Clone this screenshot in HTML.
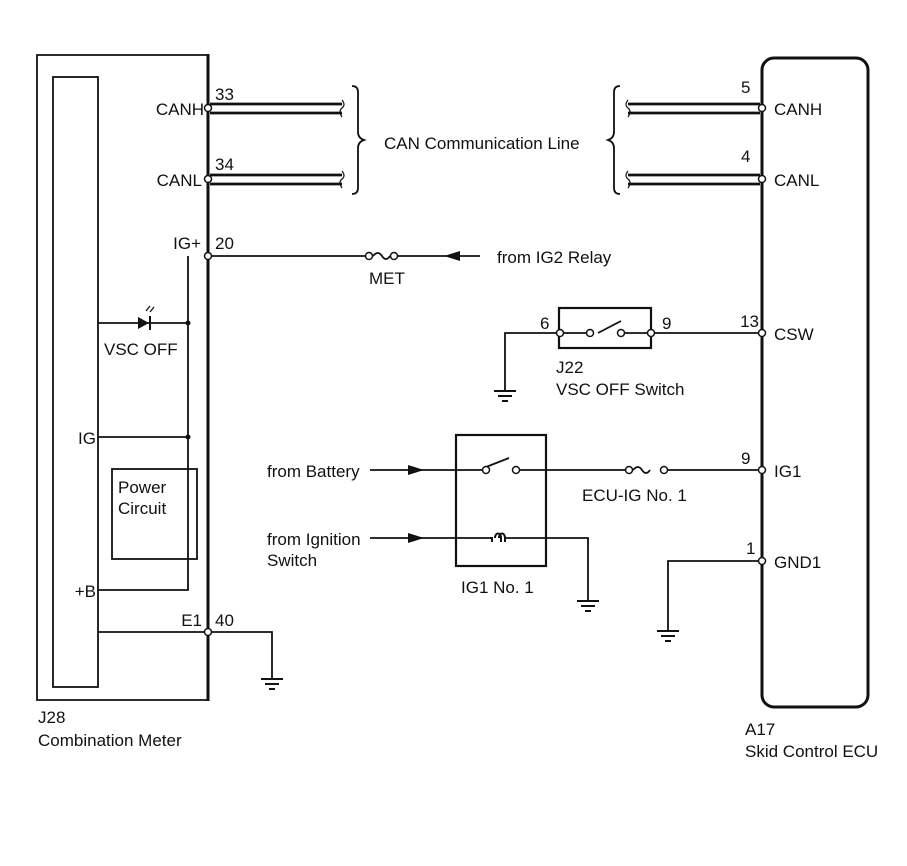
<!DOCTYPE html>
<html><head><style>
html,body{margin:0;padding:0;background:#fff;}
svg{display:block}
text{font-family:"Liberation Sans",Arial,sans-serif;font-size:17px;fill:#111}
.e{text-anchor:end}
</style></head><body>
<svg width="907" height="866" viewBox="0 0 907 866" xmlns="http://www.w3.org/2000/svg">
<defs>
<g id="gnd" stroke="#111" stroke-width="2"><line x1="-11" y1="0" x2="11" y2="0"/><line x1="-7" y1="5" x2="7" y2="5"/><line x1="-3" y1="10" x2="3" y2="10"/></g>
</defs>
<g fill="none" stroke="#111" stroke-width="1.8">
<path d="M208 55 H37 V700 H208"/>
<line x1="208" y1="54" x2="208" y2="701" stroke-width="3"/>
<rect x="53" y="77" width="45" height="610"/>
<rect x="762" y="58" width="106" height="649" rx="12" stroke-width="3"/>
<g stroke-width="2.8">
<line x1="210" y1="104" x2="342" y2="104"/><line x1="210" y1="113" x2="342" y2="113"/>
<line x1="210" y1="175" x2="342" y2="175"/><line x1="210" y1="184" x2="342" y2="184"/>
<line x1="628" y1="104" x2="760" y2="104"/><line x1="628" y1="113" x2="760" y2="113"/>
<line x1="628" y1="175" x2="760" y2="175"/><line x1="628" y1="184" x2="760" y2="184"/>
</g>
<path d="M342 100 q4 5 0 8 q-4 3 0 9 M342 171 q4 5 0 8 q-4 3 0 9" stroke-width="1.2"/>
<path d="M628 100 q-4 5 0 8 q4 3 0 9 M628 171 q-4 5 0 8 q4 3 0 9" stroke-width="1.2"/>
<path d="M352 86 q6 0 6 6 V132 q0 6 6 8 q-6 2 -6 8 V188 q0 6 -6 6"/>
<path d="M620 86 q-6 0 -6 6 V132 q0 6 -6 8 q6 2 6 8 V188 q0 6 6 6"/>
<line x1="208" y1="256" x2="369" y2="256"/>
<path d="M373 256 q5 -6 9 0 q4 6 8 0"/>
<line x1="394" y1="256" x2="480" y2="256"/>
<path d="M188 256 V590 H98"/>
<line x1="98" y1="323" x2="188" y2="323"/>
<line x1="98" y1="437" x2="188" y2="437"/>
<rect x="112" y="469" width="85" height="90"/>
<path d="M98 632 H272 V678"/>
<rect x="559" y="308" width="92" height="40" stroke-width="2.2"/>
<path d="M505 390 V333 H590 M598 333 L621 321 M621 333 H760"/>
<rect x="456" y="435" width="90" height="131" stroke-width="2.2"/>
<line x1="370" y1="470" x2="485" y2="470"/>
<line x1="486" y1="467" x2="509" y2="458"/>
<line x1="519" y1="470" x2="626" y2="470"/>
<path d="M633 470 q5 -6 9 0 q4 6 8 0"/>
<line x1="668" y1="470" x2="760" y2="470"/>
<line x1="370" y1="538" x2="490" y2="538"/>
<path d="M490 538 h2 v4 M495 538 c0 -6 6 -6 6 0 v4 M499 538 c0 -6 6 -6 6 0 v4" stroke-width="2"/>
<path d="M506 538 H588 V600"/>
<path d="M760 561 H668 V630"/>
</g>
<g fill="#111">
<polygon points="444,256 460,251 460,261"/>
<polygon points="424,470 408,465 408,475"/>
<polygon points="424,538 408,533 408,543"/>
<polygon points="138,317 138,329 149,323"/>
<rect x="149" y="316" width="2" height="14"/>
<circle cx="188" cy="323" r="2.5"/><circle cx="188" cy="437" r="2.5"/>
</g>
<path d="M146 311 l4 -5 M150 312 l4 -5" stroke="#111" stroke-width="1.3"/>
<use href="#gnd" x="272" y="679"/><use href="#gnd" x="505" y="391"/><use href="#gnd" x="588" y="601"/><use href="#gnd" x="668" y="631"/>
<g fill="#fff" stroke="#111" stroke-width="1.5">
<circle cx="208" cy="108" r="3.5"/><circle cx="208" cy="179" r="3.5"/><circle cx="208" cy="256" r="3.5"/><circle cx="208" cy="632" r="3.5"/>
<circle cx="762" cy="108" r="3.5"/><circle cx="762" cy="179" r="3.5"/><circle cx="762" cy="333" r="3.5"/><circle cx="762" cy="470" r="3.5"/><circle cx="762" cy="561" r="3.5"/>
<circle cx="560" cy="333" r="3.5"/><circle cx="651" cy="333" r="3.5"/><circle cx="590" cy="333" r="3.5"/><circle cx="621" cy="333" r="3.5"/>
<circle cx="486" cy="470" r="3.5"/><circle cx="516" cy="470" r="3.5"/>
<circle cx="629" cy="470" r="3.5"/><circle cx="664" cy="470" r="3.5"/>
<circle cx="369" cy="256" r="3.5"/><circle cx="394" cy="256" r="3.5"/>
</g>
<text class="e" x="204" y="115">CANH</text><text x="215" y="100">33</text>
<text class="e" x="202" y="186">CANL</text><text x="215" y="170">34</text>
<text x="384" y="149">CAN Communication Line</text>
<text x="741" y="93">5</text><text x="774" y="115">CANH</text>
<text x="741" y="162">4</text><text x="774" y="186">CANL</text>
<text class="e" x="201" y="249">IG+</text><text x="215" y="249">20</text>
<text x="369" y="284">MET</text>
<text x="497" y="263">from IG2 Relay</text>
<text x="104" y="355">VSC OFF</text>
<text class="e" x="96" y="444">IG</text>
<text x="118" y="493">Power</text><text x="118" y="514">Circuit</text>
<text class="e" x="96" y="597">+B</text>
<text class="e" x="202" y="626">E1</text><text x="215" y="626">40</text>
<text x="38" y="723">J28</text><text x="38" y="746">Combination Meter</text>
<text x="540" y="329">6</text><text x="662" y="329">9</text>
<text class="e" x="759" y="327">13</text><text x="774" y="340">CSW</text>
<text x="556" y="373">J22</text><text x="556" y="395">VSC OFF Switch</text>
<text x="267" y="477">from Battery</text>
<text x="267" y="545">from Ignition</text><text x="267" y="566">Switch</text>
<text x="582" y="501">ECU-IG No. 1</text>
<text x="741" y="464">9</text><text x="774" y="477">IG1</text>
<text x="461" y="593">IG1 No. 1</text>
<text x="746" y="554">1</text><text x="774" y="568">GND1</text>
<text x="745" y="735">A17</text><text x="745" y="757">Skid Control ECU</text>
</svg>
</body></html>
